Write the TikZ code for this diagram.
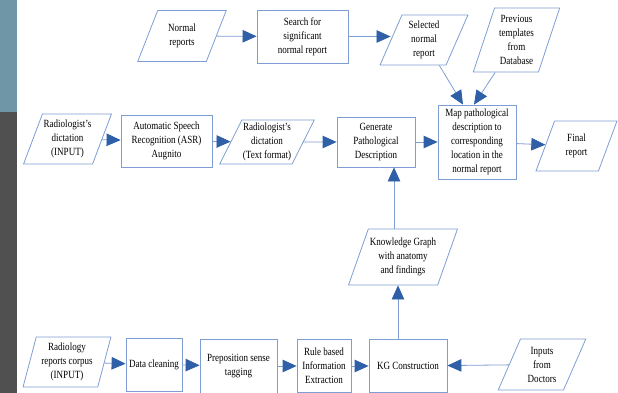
\documentclass[tikz,border=0pt]{standalone}
\usepackage{fontspec}
\setmainfont{Liberation Serif}[FakeStretch=0.82]
\usetikzlibrary{arrows.meta, shapes.geometric}
\definecolor{lineblue}{HTML}{7E9ED3}
\definecolor{headblue}{HTML}{2F5FA7}
\definecolor{stripteal}{HTML}{6F96A6}
\definecolor{stripgrey}{HTML}{505050}
\tikzstyle{every picture} = [x=1pt, y=-1pt]
\tikzstyle{box} = [draw=lineblue, line width=0.8pt, align=center, inner sep=1pt, font=\fontsize{11}{14}\selectfont]
\tikzstyle{data} = [box, trapezium, trapezium left angle=65, trapezium right angle=115, trapezium stretches=true]
\tikzstyle{flow} = [draw=lineblue, line width=0.8pt, -{Triangle[length=14pt, width=12.5pt, color=headblue]}]

\begin{document}
\begin{tikzpicture}
            \useasboundingbox (0,0) rectangle (618,393);
            \fill[stripteal] (0,0) rectangle (17,112);
            \fill[stripgrey] (0,112) rectangle (17,393);

            \node (normal) [data, minimum width=89pt, minimum height=51pt] at (182,36) {Normal\\reports};
            \node (search) [box, minimum width=91pt, minimum height=53pt] at (302.5,36.5) {Search for\\significant\\normal report};
            \node (selected) [data, minimum width=88pt, minimum height=50pt, trapezium left angle=68, trapezium right angle=112] at (424,40) {Selected\\normal\\report};
            \node (templates) [data, minimum width=87pt, minimum height=64pt, trapezium left angle=71, trapezium right angle=109] at (516.5,40) {Previous\\templates\\from\\Database};
            \node (map) [box, minimum width=78pt, minimum height=74pt] at (477,142) {Map pathological\\description to\\corresponding\\location in the\\normal report};
            \node (final) [data, minimum width=81pt, minimum height=50pt, trapezium left angle=69, trapezium right angle=111] at (576.5,146) {Final\\report};

            \node (dict input) [data, minimum width=88pt, minimum height=50pt] at (67.5,139) {Radiologist’s\\dictation\\(INPUT)};
            \node (asr) [box, minimum width=91pt, minimum height=52pt] at (166.5,141) {Automatic Speech\\Recognition (ASR)\\Augnito};
            \node (dict text) [data, minimum width=93pt, minimum height=44pt, trapezium left angle=61, trapezium right angle=119] at (267,142) {Radiologist’s\\dictation\\(Text format)};
            \node (generate) [box, minimum width=78pt, minimum height=50pt] at (376,142) {Generate\\Pathological\\Description};

            \node (kg) [data, minimum width=109pt, minimum height=56pt, trapezium left angle=64, trapezium right angle=116] at (403,257) {Knowledge Graph\\with anatomy\\and findings};

            \node (corpus) [data, minimum width=88pt, minimum height=50pt, trapezium left angle=74, trapezium right angle=106] at (67,362) {Radiology\\reports corpus\\(INPUT)};
            \node (cleaning) [box, minimum width=56pt, minimum height=53pt] at (154,364.5) {Data cleaning};
            \node (tagging) [box, minimum width=77pt, minimum height=54pt] at (238.5,366) {Preposition sense\\tagging};
            \node (rules) [box, minimum width=54pt, minimum height=53pt] at (324,366) {Rule based\\Information\\Extraction};
            \node (kg build) [box, minimum width=78pt, minimum height=53pt] at (408,366) {KG Construction};
            \node (doctors) [data, minimum width=88pt, minimum height=51pt, trapezium left angle=67, trapezium right angle=113] at (542,364.5) {Inputs\\from\\Doctors};

            \coordinate (kg up) at ([xshift=18pt]generate.south);
            \coordinate (kg in) at ([xshift=-10pt]kg build.north);

            \path (normal) edge[flow] (search)
                  (search) edge[flow] (search -| selected.west)
                  (selected) edge[flow] ([xshift=-14pt]map.north)
                  (templates) edge[flow] ([xshift=-3pt]map.north)
                  (dict input) edge[flow] (asr)
                  (asr) edge[flow] (dict text)
                  (dict text) edge[flow] (generate)
                  (generate) edge[flow] (map)
                  (map) edge[flow] (final)
                  (kg.north -| kg up) edge[flow] (kg up)
                  (kg in) edge[flow] (kg in |- kg.south)
                  (corpus) edge[flow] (cleaning)
                  (cleaning) edge[flow] (tagging)
                  (tagging) edge[flow] (rules)
                  (rules) edge[flow] (kg build)
                  (doctors) edge[flow] (kg build);
        \end{tikzpicture}
\end{document}
